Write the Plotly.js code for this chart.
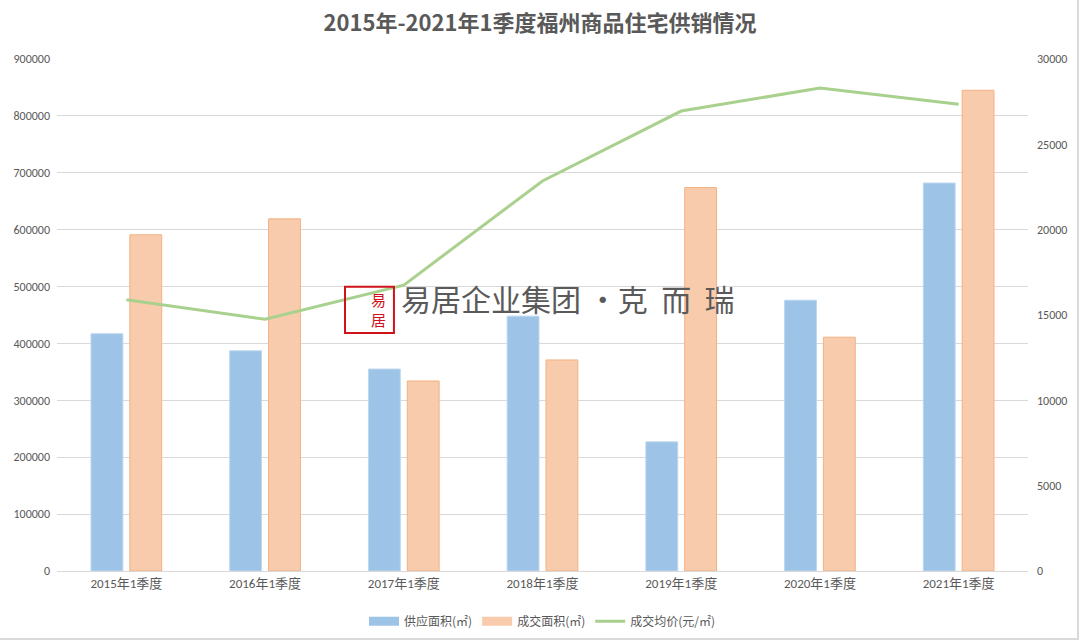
<!DOCTYPE html>
<html>
<head>
<meta charset="utf-8">
<script src="https://cdn.plot.ly/plotly-3.0.1.min.js"></script>
<style>html,body{margin:0;padding:0;background:#fff;}#chart{width:1080px;height:641px;}</style>
</head>
<body>
<div id="chart"></div>
<script>
const categories = ["2015年1季度","2016年1季度","2017年1季度","2018年1季度","2019年1季度","2020年1季度","2021年1季度"];
const supplyArea = [417000, 387000, 355000, 448000, 227000, 476000, 682000];
const soldArea   = [591000, 619000, 334000, 371000, 674000, 411000, 845000];
const avgPrice   = [15900, 14750, 16750, 22850, 26950, 28300, 27350];
const leftTicks  = [0,100000,200000,300000,400000,500000,600000,700000,800000,900000];
const rightTicks = [0,5000,10000,15000,20000,25000,30000];
const seriesNames = ["供应面积(㎡)", "成交面积(㎡)", "成交均价(元/㎡)"];

const font = {family: "Calibri, 'Noto Sans CJK SC', 'Noto Sans', sans-serif", color: "#595959", size: 12};

const traces = [
  {type:"bar", name:seriesNames[0], x:categories, y:supplyArea, showlegend:false,
   marker:{color:"#9DC3E6", line:{color:"#BDD7EE", width:1}}},
  {type:"bar", name:seriesNames[1], x:categories, y:soldArea, showlegend:false,
   marker:{color:"#F8CBAD", line:{color:"#F4B183", width:1}}},
  {type:"scatter", mode:"lines", name:seriesNames[2], x:categories, y:avgPrice, yaxis:"y2", showlegend:false,
   line:{color:"#A9D18E", width:3}},
  // legend entries with wide swatches
  {type:"scatter", mode:"lines", name:seriesNames[0], x:[null], y:[null], line:{color:"#9DC3E6", width:9}},
  {type:"scatter", mode:"lines", name:seriesNames[1], x:[null], y:[null], line:{color:"#F8CBAD", width:9}},
  {type:"scatter", mode:"lines", name:seriesNames[2], x:[null], y:[null], line:{color:"#A9D18E", width:3}}
];

const layout = {
  width:1080, height:641,
  margin:{l:57, r:52, t:59, b:70, autoexpand:false},
  paper_bgcolor:"#fff", plot_bgcolor:"#fff",
  font: font,
  title:{text:"<b>2015年-2021年1季度福州商品住宅供销情况</b>", x:0.5, xanchor:"center", y:0.963, yanchor:"middle",
         font:{family:"'Noto Sans CJK SC', sans-serif", size:22, color:"#595959"}},
  barmode:"group", bargap:0.44, bargroupgap:0.18,
  xaxis:{type:"category", showgrid:false, showline:true, linecolor:"#D9D9D9", linewidth:1,
         ticks:"", tickfont:{size:13, color:"#595959", family:"Calibri, 'Noto Sans CJK SC', sans-serif"}},
  yaxis:{range:[0,900000], tickvals:leftTicks, ticktext:leftTicks.map(String), showgrid:true, gridcolor:"#D9D9D9",
         zeroline:false, showline:false, ticks:"", tickfont:{size:12, color:"#595959"}, ticklabelstandoff:6},
  yaxis2:{range:[0,30000], tickvals:rightTicks, ticktext:rightTicks.map(String), overlaying:"y", side:"right",
          showgrid:false, zeroline:false, showline:false, ticks:"", tickfont:{size:12, color:"#595959"}, ticklabelstandoff:8},
  legend:{orientation:"h", x:0.5, xanchor:"center", y:-0.07, yanchor:"top",
          font:{size:12, color:"#595959", family:"'Noto Sans CJK SC', sans-serif"}, traceorder:"normal",
          itemwidth:30, tracegroupgap:0},
  shapes:[
    {type:"line", xref:"paper", yref:"paper", x0:1.0515, x1:1.0515, y0:-0.135, y1:1.16, line:{color:"#D9D9D9", width:2}},
    {type:"line", xref:"paper", yref:"paper", x0:-0.06, x1:1.0515, y0:-0.133, y1:-0.133, line:{color:"#D9D9D9", width:2}},
    {type:"line", xref:"paper", yref:"paper", x0:1.0216, x1:1.0216, y0:1.148, y1:1.16, line:{color:"#D9D9D9", width:1}},
    {type:"rect", xref:"paper", yref:"paper", x0:0.2966, x1:0.347, y0:0.465, y1:0.555, line:{color:"#D0121B", width:2}, fillcolor:"rgba(255,255,255,0)"}
  ],
  annotations:[
    {xref:"paper", yref:"paper", x:0.3218, y:0.51, text:"易<br>居", showarrow:false,
     font:{family:"'Noto Sans CJK SC', sans-serif", size:15, color:"#D0121B"}},
    {xref:"paper", yref:"paper", x:0.352, y:0.533, xanchor:"left", yanchor:"middle", text:"易居企业集团 ·克  而  瑞", showarrow:false,
     font:{family:"'Noto Sans CJK SC', sans-serif", size:30, color:"#5a5a5a"}}
  ],
  showlegend:true
};

Plotly.newPlot("chart", traces, layout, {displayModeBar:false, staticPlot:true});
</script>
</body>
</html>
